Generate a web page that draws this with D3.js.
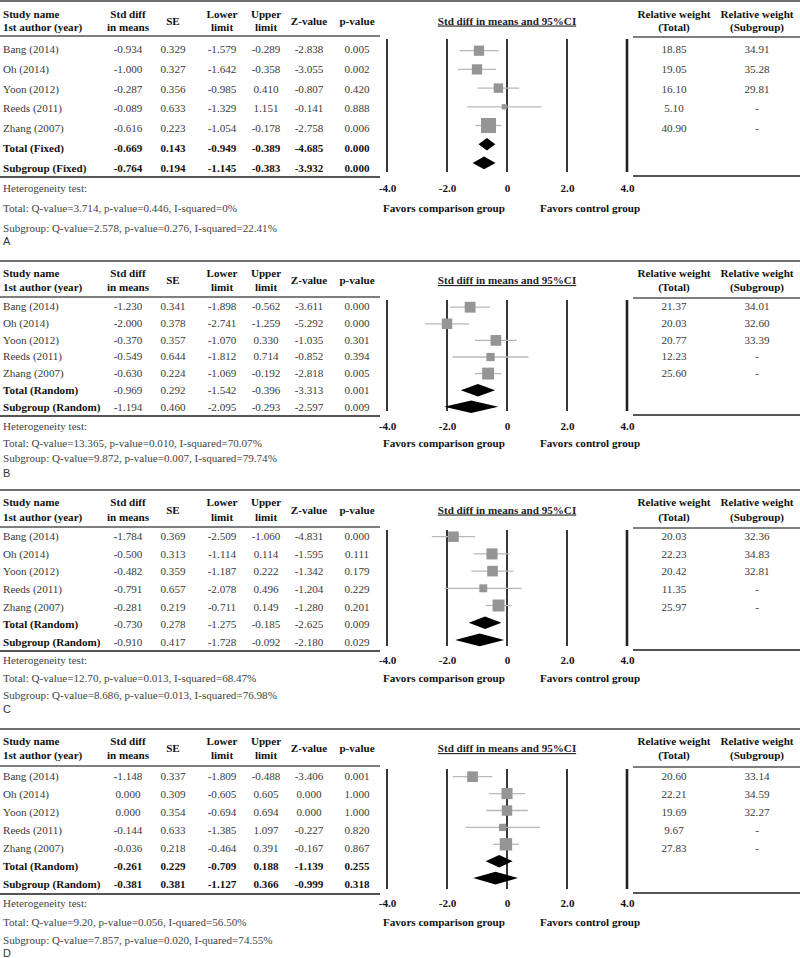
<!DOCTYPE html>
<html><head><meta charset="utf-8">
<script src="https://cdn.jsdelivr.net/npm/d3@7/dist/d3.min.js"></script>
<style>
body{margin:0;background:#fff;}
svg{display:block;}
text{font-family:"Liberation Serif","Times New Roman",serif;font-size:11.1px;}
</style></head>
<body>
<script>
// ---------- DATA ----------
const studies = ["Bang (2014)", "Oh (2014)", "Yoon (2012)", "Reeds (2011)", "Zhang (2007)"];
const headers = [["Study name","1st author (year)"],["Std diff","in means"],["SE"],["Lower","limit"],["Upper","limit"],["Z-value"],["p-value"]];
const weightHeaders = [["Relative weight","(Total)"],["Relative weight","(Subgroup)"]];
const tickValues = [-4, -2, 0, 2, 4];
const tickLabels = ["-4.0", "-2.0", "0", "2.0", "4.0"];
const panelLetters = ["A", "B", "C", "D"];

// Panel A
const smdA = [-0.934, -1.000, -0.287, -0.089, -0.616];
const seA  = [0.329, 0.327, 0.356, 0.633, 0.223];
const loA  = [-1.579, -1.642, -0.985, -1.329, -1.054];
const hiA  = [-0.289, -0.358, 0.410, 1.151, -0.178];
const zA   = [-2.838, -3.055, -0.807, -0.141, -2.758];
const pA   = [0.005, 0.002, 0.420, 0.888, 0.006];
const wTotA = [18.85, 19.05, 16.10, 5.10, 40.90];
const wSubA = [34.91, 35.28, 29.81, null, null];
const totalA = [-0.669, 0.143, -0.949, -0.389, -4.685, 0.000];
const subA   = [-0.764, 0.194, -1.145, -0.383, -3.932, 0.000];
const hetA = ["Total: Q-value=3.714, p-value=0.446, I-squared=0%", "Subgroup: Q-value=2.578, p-value=0.276, I-squared=22.41%"];

// Panel B
const smdB = [-1.230, -2.000, -0.370, -0.549, -0.630];
const seB  = [0.341, 0.378, 0.357, 0.644, 0.224];
const loB  = [-1.898, -2.741, -1.070, -1.812, -1.069];
const hiB  = [-0.562, -1.259, 0.330, 0.714, -0.192];
const zB   = [-3.611, -5.292, -1.035, -0.852, -2.818];
const pB   = [0.000, 0.000, 0.301, 0.394, 0.005];
const wTotB = [21.37, 20.03, 20.77, 12.23, 25.60];
const wSubB = [34.01, 32.60, 33.39, null, null];
const totalB = [-0.969, 0.292, -1.542, -0.396, -3.313, 0.001];
const subB   = [-1.194, 0.460, -2.095, -0.293, -2.597, 0.009];
const hetB = ["Total: Q-value=13.365, p-value=0.010, I-squared=70.07%", "Subgroup: Q-value=9.872, p-value=0.007, I-squared=79.74%"];

// Panel C
const smdC = [-1.784, -0.500, -0.482, -0.791, -0.281];
const seC  = [0.369, 0.313, 0.359, 0.657, 0.219];
const loC  = [-2.509, -1.114, -1.187, -2.078, -0.711];
const hiC  = [-1.060, 0.114, 0.222, 0.496, 0.149];
const zC   = [-4.831, -1.595, -1.342, -1.204, -1.280];
const pC   = [0.000, 0.111, 0.179, 0.229, 0.201];
const wTotC = [20.03, 22.23, 20.42, 11.35, 25.97];
const wSubC = [32.36, 34.83, 32.81, null, null];
const totalC = [-0.730, 0.278, -1.275, -0.185, -2.625, 0.009];
const subC   = [-0.910, 0.417, -1.728, -0.092, -2.180, 0.029];
const hetC = ["Total: Q-value=12.70, p-value=0.013, I-squared=68.47%", "Subgroup: Q-value=8.686, p-value=0.013, I-squared=76.98%"];

// Panel D
const smdD = [-1.148, 0.000, 0.000, -0.144, -0.036];
const seD  = [0.337, 0.309, 0.354, 0.633, 0.218];
const loD  = [-1.809, -0.605, -0.694, -1.385, -0.464];
const hiD  = [-0.488, 0.605, 0.694, 1.097, 0.391];
const zD   = [-3.406, 0.000, 0.000, -0.227, -0.167];
const pD   = [0.001, 1.000, 1.000, 0.820, 0.867];
const wTotD = [20.60, 22.21, 19.69, 9.67, 27.83];
const wSubD = [33.14, 34.59, 32.27, null, null];
const totalD = [-0.261, 0.229, -0.709, 0.188, -1.139, 0.255];
const subD   = [-0.381, 0.381, -1.127, 0.366, -0.999, 0.318];
const hetD = ["Total: Q-value=9.20, p-value=0.056, I-quared=56.50%", "Subgroup: Q-value=7.857, p-value=0.020, I-quared=74.55%"];

const panels = [
  {smd:smdA,se:seA,lo:loA,hi:hiA,z:zA,p:pA,wT:wTotA,wS:wSubA,total:totalA,sub:subA,het:hetA,model:"Fixed"},
  {smd:smdB,se:seB,lo:loB,hi:hiB,z:zB,p:pB,wT:wTotB,wS:wSubB,total:totalB,sub:subB,het:hetB,model:"Random"},
  {smd:smdC,se:seC,lo:loC,hi:hiC,z:zC,p:pC,wT:wTotC,wS:wSubC,total:totalC,sub:subC,het:hetC,model:"Random"},
  {smd:smdD,se:seD,lo:loD,hi:hiD,z:zD,p:pD,wT:wTotD,wS:wSubD,total:totalD,sub:subD,het:hetD,model:"Random"}
];

// ---------- LAYOUT ----------
const layouts = [
  {top:1,   h1:14,  h2:27,  ul:36,  row0:49,  step:19.83, prow0:50.7,  pstep:18.7, bot:177, het:188, tot:208, sub:228, lab:240, boldNums:true},
  {top:261, h1:273, h2:287, ul:297, row0:306, step:16.83, prow0:307.2, pstep:16.6, bot:416, het:426, tot:443, sub:458, lab:472, boldNums:false},
  {top:490, h1:502, h2:517, ul:527, row0:536, step:17.67, prow0:536.7, pstep:17.2, bot:651, het:660, tot:678, sub:695, lab:708, boldNums:false},
  {top:729, h1:741, h2:755, ul:766, row0:776, step:18.0,  prow0:776.7, pstep:16.9, bot:894, het:903, tot:922, sub:940, lab:952, boldNums:true}
];
const colX = [3, 128, 173, 222, 266, 309, 357];
const wColX = [674, 757];
const W = 800, H = 958;
const BL = 4; // baseline offset from visual centre

const x = d3.scaleLinear().domain([-4, 4]).range([387, 627]);
const side = d3.scaleSqrt().domain([0, 100]).range([0, 23.5]);

const svg = d3.select("body").append("svg").attr("width", W).attr("height", H);
const f3 = v => v.toFixed(3);
const f2 = v => v == null ? "-" : v.toFixed(2);

panels.forEach((P, pi) => {
  const L = layouts[pi];
  const g = svg.append("g");
  const rowY = i => L.row0 + i * L.step;
  const plotY = i => L.prow0 + i * L.pstep;

  // top rule
  g.append("line").attr("x1", 0).attr("x2", W).attr("y1", L.top).attr("y2", L.top)
    .attr("stroke", "#6e6e6e").attr("stroke-width", 2);

  // headers
  headers.forEach((h, ci) => {
    const anchor = ci === 0 ? "start" : "middle";
    const lines = h.length === 2 ? [L.h1, L.h2] : [(L.h1 + L.h2) / 2];
    h.forEach((t, k) => g.append("text").attr("x", colX[ci]).attr("y", lines[k] + BL)
      .attr("text-anchor", anchor).attr("font-weight", "bold").attr("fill", "#111").text(t));
  });
  weightHeaders.forEach((h, ci) => h.forEach((t, k) =>
    g.append("text").attr("x", wColX[ci]).attr("y", (k ? L.h2 : L.h1) + BL)
      .attr("text-anchor", "middle").attr("font-weight", "bold").attr("fill", "#111").text(t)));

  // rules of tables
  g.append("line").attr("x1", 0).attr("x2", 380).attr("y1", L.ul).attr("y2", L.ul).attr("stroke", "#555").attr("stroke-width", 1.6);
  g.append("line").attr("x1", 0).attr("x2", 380).attr("y1", L.bot).attr("y2", L.bot).attr("stroke", "#555").attr("stroke-width", 2);
  g.append("line").attr("x1", 633).attr("x2", W).attr("y1", L.ul + 1).attr("y2", L.ul + 1).attr("stroke", "#555").attr("stroke-width", 1.6);
  g.append("line").attr("x1", 633).attr("x2", W).attr("y1", L.bot - 1).attr("y2", L.bot - 1).attr("stroke", "#555").attr("stroke-width", 2);

  // study rows
  studies.forEach((s, i) => {
    const y = rowY(i) + BL;
    const vals = [P.smd[i], P.se[i], P.lo[i], P.hi[i], P.z[i], P.p[i]];
    g.append("text").attr("x", colX[0]).attr("y", y).attr("fill", "#3a3a3a").text(s);
    vals.forEach((v, k) => g.append("text").attr("x", colX[k + 1]).attr("y", y)
      .attr("text-anchor", "middle").attr("fill", "#3a3a3a").text(f3(v)));
    g.append("text").attr("x", wColX[0]).attr("y", y).attr("text-anchor", "middle").attr("fill", "#3a3a3a").text(f2(P.wT[i]));
    g.append("text").attr("x", wColX[1]).attr("y", y).attr("text-anchor", "middle").attr("fill", "#3a3a3a").text(f2(P.wS[i]));
  });
  // summary rows
  [["Total (" + P.model + ")", P.total], ["Subgroup (" + P.model + ")", P.sub]].forEach(([name, vals], j) => {
    const y = rowY(5 + j) + BL;
    g.append("text").attr("x", colX[0]).attr("y", y).attr("font-weight", "bold").attr("fill", "#111").text(name);
    vals.forEach((v, k) => g.append("text").attr("x", colX[k + 1]).attr("y", y)
      .attr("text-anchor", "middle").attr("font-weight", L.boldNums ? "bold" : "normal")
      .attr("fill", L.boldNums ? "#111" : "#3a3a3a").text(f3(v)));
  });

  // heterogeneity
  g.append("text").attr("x", colX[0]).attr("y", L.het + BL).attr("fill", "#444").text("Heterogeneity test:");
  g.append("text").attr("x", colX[0]).attr("y", L.tot + BL).attr("fill", "#444").text(P.het[0]);
  g.append("text").attr("x", colX[0]).attr("y", L.sub + BL).attr("fill", "#444").text(P.het[1]);
  g.append("text").attr("x", 3).attr("y", L.lab + 5).attr("fill", "#333")
    .style("font-family", "'Liberation Sans', Arial, sans-serif").style("font-size", "11px").text(panelLetters[pi]);

  // forest plot title
  g.append("text").attr("x", x(0)).attr("y", (L.h1 + L.h2) / 2 + BL)
    .attr("text-anchor", "middle").attr("font-weight", "bold").attr("fill", "#222")
    .attr("text-decoration", "underline").text("Std diff in means and 95%CI");

  // vertical reference lines
  const vTop = L.ul + 3, vBot = L.bot - 5;
  g.selectAll(null).data(tickValues).join("line")
    .attr("x1", d => x(d)).attr("x2", d => x(d)).attr("y1", vTop).attr("y2", vBot)
    .attr("stroke", "#222").attr("stroke-width", d => d === 4 ? 2.6 : 1.8);

  // axis labels
  const ax = g.append("g").attr("transform", `translate(0,${L.het - 7})`)
    .call(d3.axisBottom(x).tickValues(tickValues).tickFormat((d, i) => tickLabels[i]).tickSize(0).tickPadding(3));
  ax.select(".domain").remove();
  ax.selectAll("text").style("font-family", "'Liberation Serif','Times New Roman',serif")
    .style("font-size", "11.1px").attr("font-weight", "bold").attr("fill", "#111");

  g.append("text").attr("x", 383).attr("y", L.tot + BL).attr("font-weight", "bold").attr("fill", "#111").text("Favors comparison group");
  g.append("text").attr("x", 540).attr("y", L.tot + BL).attr("font-weight", "bold").attr("fill", "#111").text("Favors control group");

  // CI lines and squares
  studies.forEach((s, i) => {
    const y = plotY(i);
    g.append("line").attr("x1", x(P.lo[i])).attr("x2", x(P.hi[i])).attr("y1", y).attr("y2", y)
      .attr("stroke", "#b8b8b8").attr("stroke-width", 1.3);
    const sz = side(P.wT[i]);
    g.append("rect").attr("x", x(P.smd[i]) - sz / 2).attr("y", y - sz / 2)
      .attr("width", sz).attr("height", sz).attr("fill", "#959595");
  });
  // diamonds
  [P.total, P.sub].forEach((vals, j) => {
    const y = plotY(5 + j), hh = 6.3;
    const pts = [[x(vals[2]), y], [x(vals[0]), y - hh], [x(vals[3]), y], [x(vals[0]), y + hh]];
    g.append("path").attr("d", d3.line()(pts) + "Z").attr("fill", "#000");
  });
});
</script>
</body></html>
